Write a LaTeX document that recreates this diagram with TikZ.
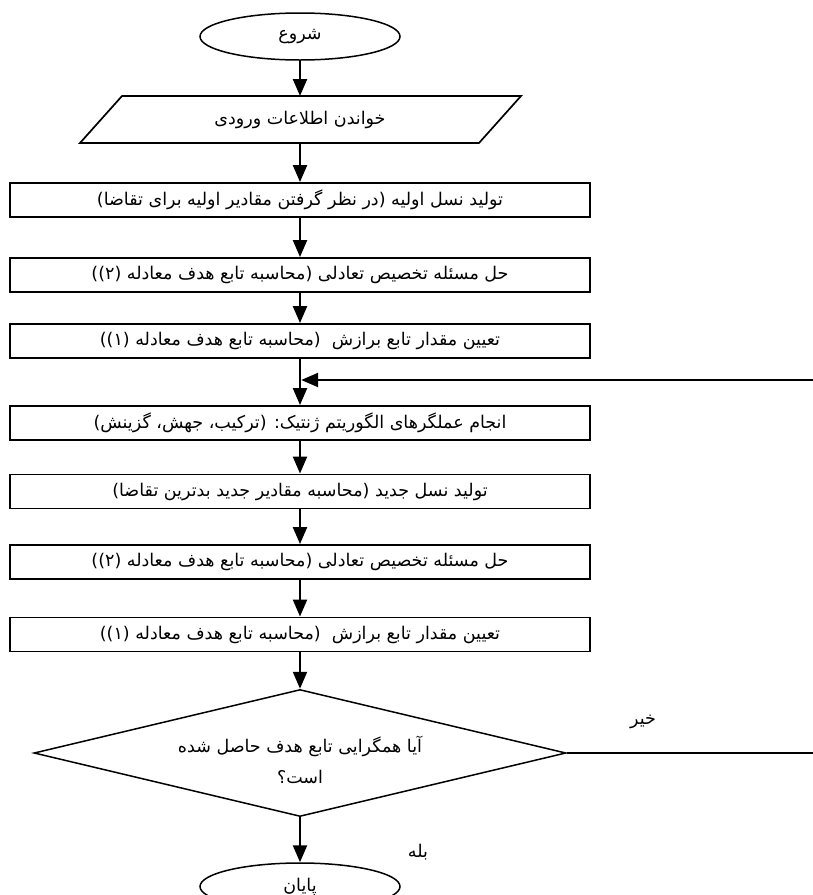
\documentclass[tikz,border=0pt]{standalone}
\usepackage{fontspec}
\usetikzlibrary{shapes.geometric,arrows.meta}
\TeXXeTstate=1
\newfontfamily\fa[Script=Arabic]{DejaVu Sans}
\begin{document}
\begin{tikzpicture}[x=1pt,y=-1pt,
  txt/.style={font=\fontsize{17.5}{21}\fa},
  box/.style={txt,draw,line width=1.9pt,minimum width=580pt,minimum height=34pt,inner sep=0pt},
  term/.style={txt,draw,ellipse,line width=1.5pt,minimum width=200pt,minimum height=47pt,inner sep=0pt},
  decision/.style={draw,diamond,aspect=4.2,line width=1.5pt,minimum width=532pt,minimum height=127pt,inner sep=0pt},
  conn/.style={line width=2.3pt,-{Triangle[length=17pt,width=14pt]}}
]
\clip (0,0) rectangle (813,895);
\fill[white] (0,0) rectangle (813,895);

\node[term] (start) at (300,36.5) {\beginR شروع\endR};

\draw[line width=1.7pt] (80,143) -- (479,143) -- (521,96) -- (122,96) -- cycle;
\node[txt] (read) at (300,119.5) {\beginR خواندن اطلاعات ورودی\endR};
\coordinate (readN) at (300,96);
\coordinate (readS) at (300,143);

\node[box] (b1) at (300,200) {\beginR تولید نسل اولیه (در نظر گرفتن مقادیر اولیه برای تقاضا)\endR};
\node[box] (b2) at (300,275) {\beginR حل مسئله تخصیص تعادلی (محاسبه تابع هدف معادله (۲))\endR};
\node[box] (b3) at (300,341) {\beginR تعیین مقدار تابع برازش\ \ (محاسبه تابع هدف معادله (۱))\endR};
\node[box] (b4) at (300,423) {\beginR انجام عملگرهای الگوریتم ژنتیک: (ترکیب، جهش، گزینش)\endR};
\node[box] (b5) at (300,491.5) {\beginR تولید نسل جدید (محاسبه مقادیر جدید بدترین تقاضا)\endR};
\node[box] (b6) at (300,562) {\beginR حل مسئله تخصیص تعادلی (محاسبه تابع هدف معادله (۲))\endR};
\node[box] (b7) at (300,634.5) {\beginR تعیین مقدار تابع برازش\ \ (محاسبه تابع هدف معادله (۱))\endR};

\node[decision] (dia) at (300,753) {};
\node[txt,align=center] (diatext) at (300,760) {\beginR آیا همگرایی تابع هدف حاصل شده\endR\\[10pt]\beginR است؟\endR};
\node[term] (end) at (300,886.5) {\beginR پایان\endR};

\node[txt] (no) at (643,722) {\beginR خیر\endR};
\node[txt] (yes) at (418,852) {\beginR بله\endR};

\coordinate (join) at (301.2,380);
\coordinate (loopR) at (840,753);

\draw[conn] (start.south) -- (readN);
\draw[conn] (readS) -- (b1.north);
\draw[conn] (b1.south) -- (b2.north);
\draw[conn] (b2.south) -- (b3.north);
\draw[conn] (b3.south) -- (b4.north);
\draw[conn] (b4.south) -- (b5.north);
\draw[conn] (b5.south) -- (b6.north);
\draw[conn] (b6.south) -- (b7.north);
\draw[conn] (b7.south) -- (dia.north);
\draw[conn] (dia.south) -- (end.north);
\draw[conn] (dia.east) -- (loopR) |- (join);
\end{tikzpicture}
\end{document}
